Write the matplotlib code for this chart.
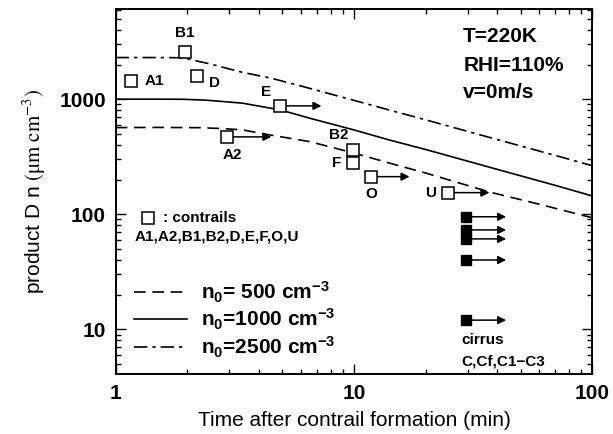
import matplotlib
matplotlib.use('Agg')
import matplotlib.pyplot as plt
from matplotlib.ticker import LogLocator, NullFormatter, FixedLocator, FixedFormatter

plt.rcParams['font.family'] = ['Liberation Sans', 'DejaVu Sans']
plt.rcParams['mathtext.fontset'] = 'custom'
plt.rcParams['mathtext.rm'] = 'Liberation Sans:bold'
plt.rcParams['mathtext.bf'] = 'Liberation Sans:bold'
plt.rcParams['mathtext.it'] = 'Liberation Sans:bold'

# model curves, product D*n for three initial ice number densities
t_500 = [1, 1.5, 2.25, 2.8, 3.4, 4.4, 6.5, 10, 14, 20, 37, 60, 100]
dn_500 = [566, 568, 565, 555, 541, 490, 428, 340, 279, 228, 156, 122, 93]

t_1000 = [1, 1.5, 1.9, 2.4, 3.4, 4.9, 6.5, 10, 14, 20, 40, 70, 100]
dn_1000 = [1000, 1000, 998, 980, 923, 807, 684, 540, 443, 365, 245, 178, 144]

t_2500 = [1, 1.5, 1.9, 2.5, 3.4, 4.5, 6, 10, 14, 20, 40, 70, 100]
dn_2500 = [2300, 2300, 2290, 2020, 1710, 1520, 1300, 976, 807, 661, 445, 324, 264]

# contrail observations (open squares)
contrail_names = ['A1', 'B1', 'D', 'E', 'A2', 'B2', 'F', 'O', 'U']
contrail_t = [1.16, 1.95, 2.19, 4.87, 2.94, 9.88, 9.88, 11.8, 24.7]
contrail_dn = [1443, 2595, 1604, 874, 470, 362, 278, 212, 154]
# end of "older than" arrow, None = no arrow
contrail_t_end = [None, None, None, 7.3, 4.5, None, None, 17.1, 37]

# cirrus observations (filled squares)
cirrus_t = 29.6
cirrus_t_end = 43.5
cirrus_dn = [95, 73, 61, 40, 12]

fig = plt.figure(figsize=(6.13, 4.34), dpi=100)
ax = fig.add_axes([0.1888, 0.1376, 0.9662 - 0.1888, 0.9797 - 0.1376])
ax.set_xscale('log')
ax.set_yscale('log')

l1, = ax.plot(t_500, dn_500, color='k', lw=1.2, dashes=(7, 4))
l2, = ax.plot(t_1000, dn_1000, color='k', lw=1.2)
l3, = ax.plot(t_2500, dn_2500, color='k', lw=1.2, dashes=(8, 3, 2, 3))

ax.plot(contrail_t, contrail_dn, ls='none', marker='s', ms=8, mfc='white',
        mec='k', mew=1.1, zorder=5)

arrow_kw = dict(arrowstyle='-|>', color='k', lw=1.1, mutation_scale=12,
                shrinkA=4, shrinkB=0)
for t0, y, t1 in zip(contrail_t, contrail_dn, contrail_t_end):
    if t1 is not None:
        ax.annotate('', xy=(t1, y), xytext=(t0, y), arrowprops=arrow_kw, zorder=4)

# label offsets in points (dx, dy, ha)
label_pos = {
    'A1': (10, 0, 'left'), 'B1': (0, 13, 'center'), 'D': (9, -5.5, 'left'),
    'E': (-9.6, 10.3, 'center'), 'A2': (3.6, -13, 'center'),
    'B2': (-10, 10.8, 'center'), 'F': (-11.5, 0, 'center'),
    'O': (0, -12.7, 'center'), 'U': (-12, 0, 'center'),
}
for name, t0, y in zip(contrail_names, contrail_t, contrail_dn):
    dx, dy, ha = label_pos[name]
    ax.annotate(name, (t0, y), xytext=(dx, dy), textcoords='offset points',
                ha=ha, va='center', fontsize=11, fontweight='bold')

ax.plot([cirrus_t] * len(cirrus_dn), cirrus_dn, ls='none', marker='s', ms=7.5,
        mfc='k', mec='k', zorder=5)
for y in cirrus_dn:
    ax.annotate('', xy=(cirrus_t_end, y), xytext=(cirrus_t, y),
                arrowprops=dict(arrow_kw, shrinkA=2), zorder=4)

ax.set_xlim(1, 100)
ax.set_ylim(4.06, 6100)

ax.xaxis.set_major_locator(FixedLocator([1, 10, 100]))
ax.xaxis.set_major_formatter(FixedFormatter(['1', '10', '100']))
ax.yaxis.set_major_locator(FixedLocator([10, 100, 1000]))
ax.yaxis.set_major_formatter(FixedFormatter(['10', '100', '1000']))
ax.xaxis.set_minor_locator(LogLocator(base=10, subs=range(2, 10)))
ax.yaxis.set_minor_locator(LogLocator(base=10, subs=range(2, 10)))
ax.xaxis.set_minor_formatter(NullFormatter())
ax.yaxis.set_minor_formatter(NullFormatter())
ax.tick_params(which='both', direction='in', top=True, right=True, width=1)
ax.tick_params(which='major', length=7, labelsize=15, pad=7)
ax.tick_params(which='minor', length=3.5)
for lab in ax.get_xticklabels() + ax.get_yticklabels():
    lab.set_fontweight('bold')
for sp in ax.spines.values():
    sp.set_linewidth(1.4)

ax.set_xlabel('Time after contrail formation (min)', fontsize=15, labelpad=6)
ax.set_ylabel(r'product D n $\mathrm{(μm\ cm^{-3})}$', fontsize=15,
              math_fontfamily='stix', labelpad=8)

ax.text(0.729, 0.923, 'T=220K', transform=ax.transAxes, fontsize=15,
        fontweight='bold', va='center')
ax.text(0.729, 0.846, 'RHI=110%', transform=ax.transAxes, fontsize=15,
        fontweight='bold', va='center')
ax.text(0.729, 0.772, 'v=0m/s', transform=ax.transAxes, fontsize=15,
        fontweight='bold', va='center')

ax.plot([0.0678], [0.4285], transform=ax.transAxes, marker='s', ms=9,
        mfc='white', mec='k', mew=1.1)
ax.text(0.0999, 0.4285, ': contrails', transform=ax.transAxes, fontsize=11,
        fontweight='bold', va='center')
ax.text(0.0405, 0.3765, 'A1,A2,B1,B2,D,E,F,O,U', transform=ax.transAxes,
        fontsize=11, fontweight='bold', va='center')

ax.text(0.726, 0.0938, 'cirrus', transform=ax.transAxes, fontsize=11,
        fontweight='bold', va='center')
ax.text(0.726, 0.0339, 'C,Cf,C1\u2212C3', transform=ax.transAxes, fontsize=11,
        fontweight='bold', va='center')

ax.legend([l1, l2, l3],
          [r'n$_0$= 500 cm$^{-3}$', r'n$_0$=1000 cm$^{-3}$', r'n$_0$=2500 cm$^{-3}$'],
          loc='lower left', bbox_to_anchor=(0.0, -0.012), frameon=False,
          prop={'size': 15, 'weight': 'bold'}, handlelength=2.5,
          handletextpad=0.7, labelspacing=0.12)

fig.savefig('out.png', dpi=100)
